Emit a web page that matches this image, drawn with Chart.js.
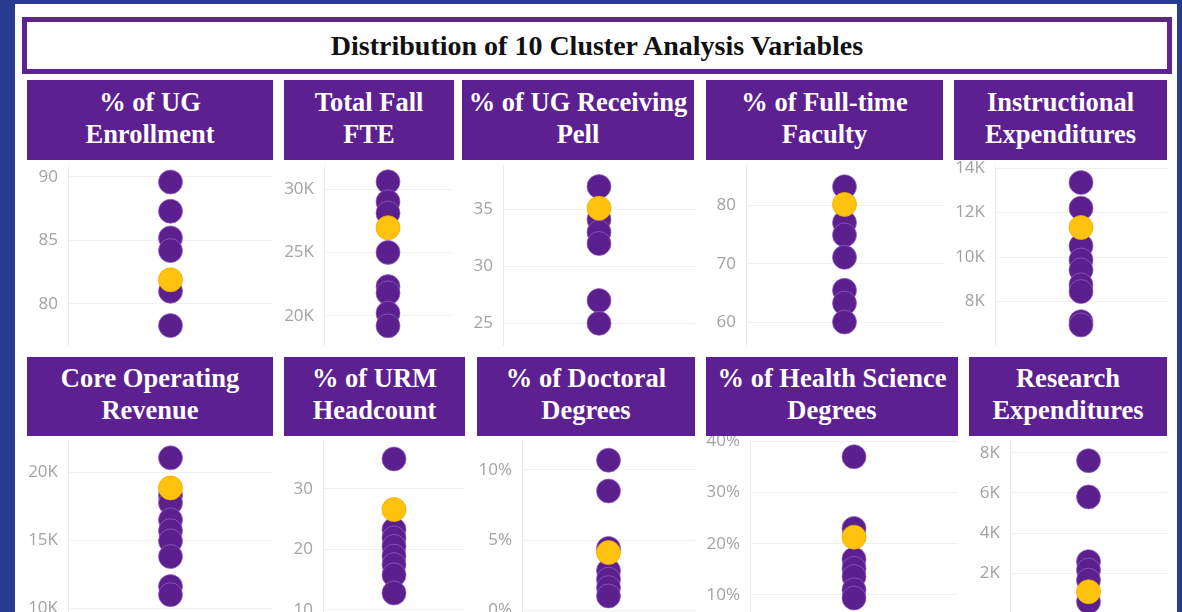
<!DOCTYPE html>
<html>
<head>
<meta charset="utf-8">
<script src="https://cdn.jsdelivr.net/npm/chart.js"></script>
<style>
  body { margin: 0; width: 1182px; height: 612px; overflow: hidden; background: #2a3c90; position: relative; }
  #board { position: absolute; left: 15px; top: 4px; width: 1162px; height: 640px; background: #fff; }
  #title {
    position: absolute; left: 22px; top: 17px; width: 1150px; height: 57px; box-sizing: border-box;
    border: 5px solid #5e2390; background: #fff; color: #111;
    font: bold 28px "Liberation Serif", "Times New Roman", serif;
    display: flex; align-items: center; justify-content: center;
  }
  .head {
    position: absolute; background: #5d2090; color: #fff; text-align: center; box-sizing: border-box;
    padding-bottom: 5px;
    font: bold 26.5px/32px "Liberation Serif", "Times New Roman", serif;
    display: flex; align-items: center; justify-content: center;
  }
  .plot { position: absolute; }
</style>
</head>
<body>
<div id="board"></div>
<div id="title">Distribution of 10 Cluster Analysis Variables</div>
<script>
// values, one pair of arrays per variable (purple = peers, yellow = selected)
// money and FTE values are in thousands
const ugEnrollment = [89.6, 87.3, 85.2, 84.2, 81.0, 78.3];
const ugEnrollmentSel = [81.9];
const fallFte = [30.58, 29.0, 28.1, 25.0, 22.3, 21.8, 20.2, 19.2];
const fallFteSel = [26.95];
const pell = [37.0, 34.1, 33.0, 32.0, 27.0, 25.0];
const pellSel = [35.1];
const fullTime = [83.1, 77.0, 74.9, 71.1, 65.5, 63.3, 60.1];
const fullTimeSel = [80.1];
const instrExp = [13.35, 12.2, 10.5, 9.87, 9.42, 8.75, 8.45, 7.1, 6.95];
const instrExpSel = [11.33];
const coreRevenue = [21.06, 18.3, 17.75, 16.5, 15.7, 14.95, 13.8, 11.6, 11.0];
const coreRevenueSel = [18.85];
const urm = [34.96, 23.3, 21.9, 20.5, 18.9, 17.5, 15.8, 12.8];
const urmSel = [26.6];
const doctoral = [10.7, 8.5, 4.4, 2.8, 2.2, 1.6, 1.0];
const doctoralSel = [4.1];
const health = [37.0, 23.0, 17.0, 15.2, 13.6, 11.0, 9.4];
const healthSel = [21.3];
const research = [7.6, 5.8, 2.58, 2.16, 1.66, 0.58];
const researchSel = [1.08];

const plain = v => v;
const thousands = v => v + 'K';
const percent = v => v + '%';

// layout: header box [x1, y1, x2, y2], plot area [x1, y1, x2, y2] in page pixels
const panels = [
  { title: '% of UG<br>Enrollment', data: ugEnrollment, sel: ugEnrollmentSel, fmt: plain, step: 5, min: 76.77, max: 90.94,
    head: [27, 80, 273, 160], plot: [68, 165, 273, 345] },
  { title: 'Total Fall<br>FTE', data: fallFte, sel: fallFteSel, fmt: thousands, step: 5, min: 17.69, max: 31.9,
    head: [284, 80, 454, 160], plot: [324, 165, 452, 345] },
  { title: '% of UG Receiving<br>Pell', data: pell, sel: pellSel, fmt: plain, step: 5, min: 23.1, max: 38.89,
    head: [462, 80, 694, 160], plot: [503, 165, 695, 345] },
  { title: '% of Full-time<br>Faculty', data: fullTime, sel: fullTimeSel, fmt: plain, step: 10, min: 56.2, max: 86.8,
    head: [706, 80, 943, 160], plot: [746, 165, 943, 345] },
  { title: 'Instructional<br>Expenditures', data: instrExp, sel: instrExpSel, fmt: thousands, step: 2, min: 6.05, max: 14.14,
    head: [954, 80, 1167, 160], plot: [995, 165, 1167, 345] },
  { title: 'Core Operating<br>Revenue', data: coreRevenue, sel: coreRevenueSel, fmt: thousands, step: 5, min: 8.77, max: 22.3,
    head: [27, 357, 273, 436], plot: [68, 441, 273, 625] },
  { title: '% of URM<br>Headcount', data: urm, sel: urmSel, fmt: plain, step: 10, min: 7.52, max: 37.93,
    head: [284, 357, 465, 436], plot: [323, 441, 465, 625] },
  { title: '% of Doctoral<br>Degrees', data: doctoral, sel: doctoralSel, fmt: percent, step: 5, min: -0.14, max: 12.07,
    head: [477, 357, 695, 436], plot: [522, 441, 695, 612] },
  { title: '% of Health Science<br>Degrees', data: health, sel: healthSel, fmt: percent, step: 10, min: 4.14, max: 40.08,
    head: [706, 357, 958, 436], plot: [750, 441, 958, 625] },
  { title: 'Research<br>Expenditures', data: research, sel: researchSel, fmt: thousands, step: 2, min: 0.075, max: 8.58,
    head: [969, 357, 1167, 436], plot: [1010, 441, 1167, 612] }
];

const axisW = 50;
const pad = 14;

function makePanel(p) {
  // chart box, sized so the plot area lands on p.plot
  const box = document.createElement('div');
  box.className = 'plot';
  const left = p.plot[0] - axisW;
  box.style.left = left + 'px';
  box.style.top = (p.plot[1] - pad) + 'px';
  box.style.width = (p.plot[2] - left) + 'px';
  box.style.height = (p.plot[3] - p.plot[1] + pad * 2) + 'px';
  const cv = document.createElement('canvas');
  box.appendChild(cv);
  document.body.appendChild(box);

  const head = document.createElement('div');
  head.className = 'head';
  head.innerHTML = p.title;
  head.style.left = p.head[0] + 'px';
  head.style.top = p.head[1] + 'px';
  head.style.width = (p.head[2] - p.head[0]) + 'px';
  head.style.height = (p.head[3] - p.head[1]) + 'px';
  document.body.appendChild(head);

  new Chart(cv, {
    type: 'scatter',
    data: {
      // first dataset is drawn on top, so the selected (yellow) one goes first
      datasets: [
        { data: p.sel.map(v => ({ x: 0, y: v })), backgroundColor: '#ffc20e', borderColor: 'rgba(235,175,0,0.8)',
          borderWidth: 1, pointRadius: 12, clip: false },
        { data: p.data.map(v => ({ x: 0, y: v })), backgroundColor: '#5b1f8e', borderColor: 'rgba(150,100,200,0.7)',
          borderWidth: 1, pointRadius: 12, clip: false }
      ]
    },
    options: {
      responsive: true,
      maintainAspectRatio: false,
      animation: false,
      layout: { autoPadding: false, padding: { top: pad, bottom: pad, left: 0, right: 0 } },
      plugins: { legend: { display: false }, tooltip: { enabled: false } },
      scales: {
        x: { type: 'linear', min: -1, max: 1, display: false },
        y: {
          min: p.min,
          max: p.max,
          border: { color: '#ebebeb' },
          grid: { color: '#f0f0f0', drawTicks: false },
          ticks: {
            stepSize: p.step,
            includeBounds: false,
            padding: 10,
            color: '#a3a3a3',
            font: { family: 'Open Sans', size: 17 },
            callback: v => p.fmt(v)
          },
          afterFit: s => { s.width = axisW; s.paddingTop = 0; s.paddingBottom = 0; }
        }
      }
    }
  });
}

panels.forEach(makePanel);
</script>
</body>
</html>
